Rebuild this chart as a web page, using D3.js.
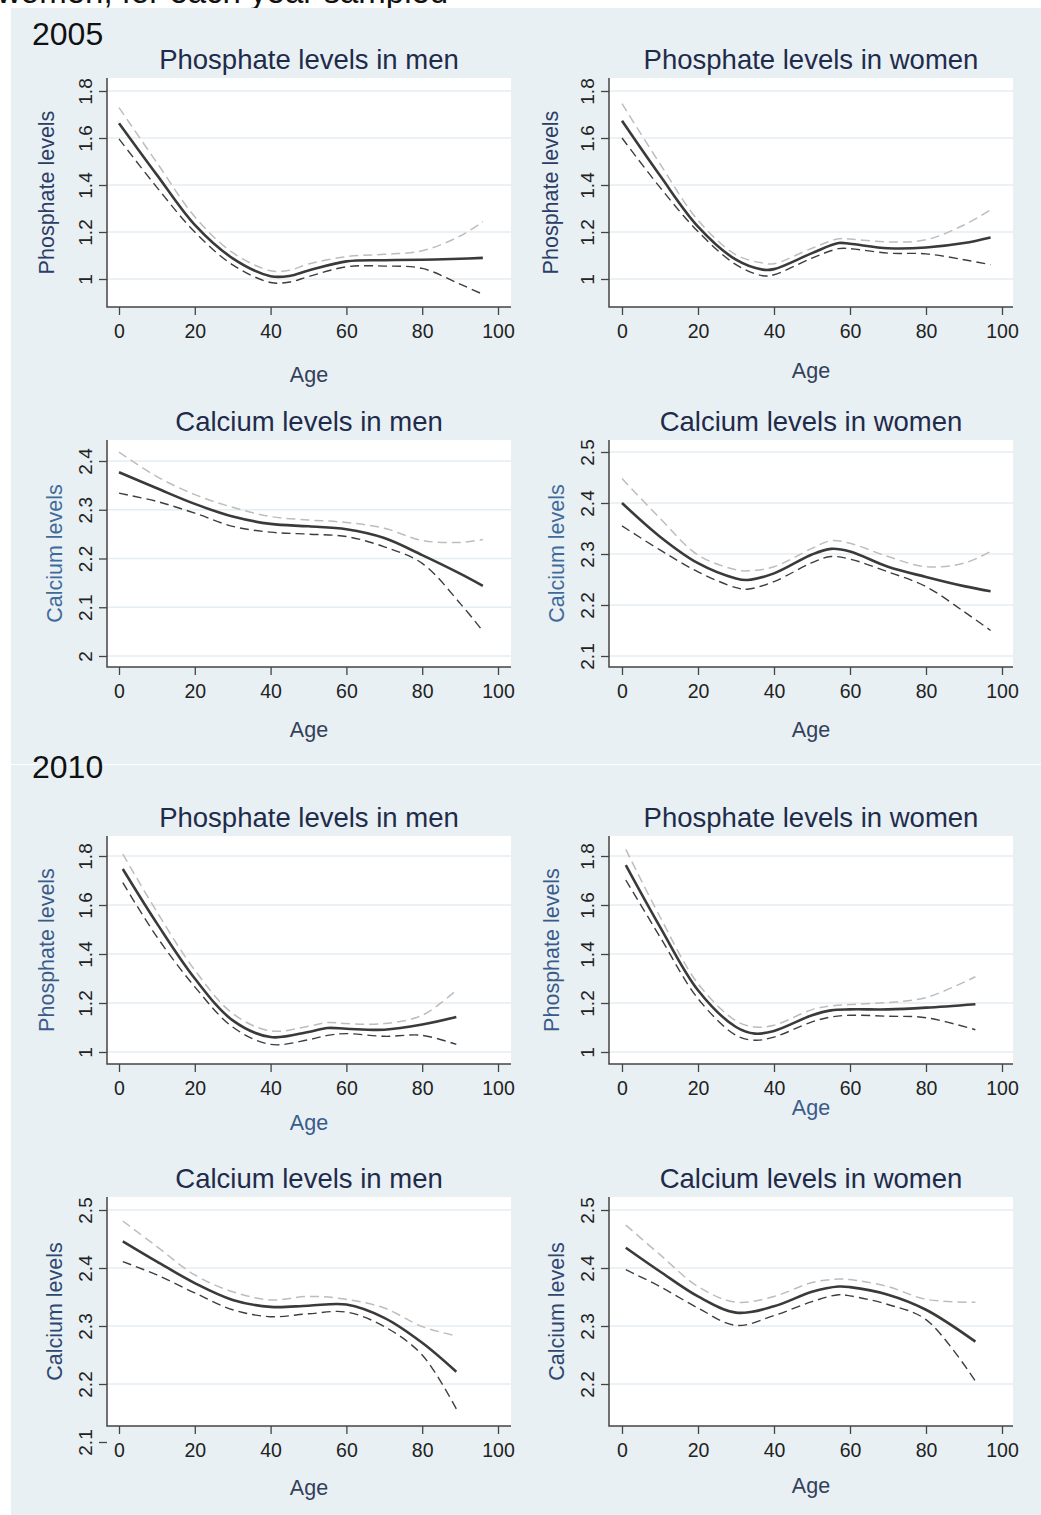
<!DOCTYPE html>
<html>
<head>
<meta charset="utf-8">
<script src="https://cdn.jsdelivr.net/npm/d3@7"></script>
<style>
  html, body { margin: 0; padding: 0; background: #fff; }
  svg { display: block; font-family: "Liberation Sans", Arial, sans-serif; }
</style>
</head>
<body>
<script>
// valores (edad, ajuste, IC superior, IC inferior)

// 2005 - fosfato hombres
const age05PhosMen = [0, 10, 20, 30, 40, 45, 50, 60, 70, 80, 90, 96];
const fit05PhosMen = [1.663, 1.443, 1.23, 1.088, 1.012, 1.013, 1.036, 1.075, 1.08, 1.082, 1.086, 1.09];
const hi05PhosMen  = [1.729, 1.495, 1.265, 1.112, 1.035, 1.037, 1.064, 1.095, 1.105, 1.12, 1.183, 1.244];
const lo05PhosMen  = [1.596, 1.39, 1.20, 1.06, 0.985, 0.987, 1.01, 1.052, 1.055, 1.045, 0.978, 0.935];

// 2005 - fosfato mujeres
const age05PhosWomen = [0, 10, 20, 30, 37, 40, 50, 57, 60, 70, 80, 90, 97];
const fit05PhosWomen = [1.673, 1.44, 1.223, 1.082, 1.04, 1.042, 1.11, 1.153, 1.15, 1.131, 1.134, 1.153, 1.177];
const hi05PhosWomen  = [1.746, 1.49, 1.25, 1.103, 1.068, 1.065, 1.131, 1.171, 1.17, 1.158, 1.167, 1.23, 1.294];
const lo05PhosWomen  = [1.60, 1.39, 1.202, 1.061, 1.014, 1.018, 1.089, 1.129, 1.129, 1.11, 1.107, 1.082, 1.061];

// 2005 - calcio hombres
const age05CaMen = [0, 10, 20, 30, 40, 50, 60, 70, 80, 90, 96];
const fit05CaMen = [2.377, 2.344, 2.312, 2.286, 2.271, 2.266, 2.26, 2.242, 2.207, 2.169, 2.144];
const hi05CaMen  = [2.418, 2.368, 2.331, 2.305, 2.286, 2.279, 2.274, 2.262, 2.237, 2.233, 2.239];
const lo05CaMen  = [2.334, 2.317, 2.293, 2.266, 2.254, 2.25, 2.245, 2.224, 2.19, 2.108, 2.051];

// 2005 - calcio mujeres
const age05CaWomen = [0, 10, 20, 30, 33, 40, 50, 55, 60, 70, 80, 90, 97];
const fit05CaWomen = [2.40, 2.334, 2.282, 2.252, 2.249, 2.262, 2.299, 2.31, 2.305, 2.275, 2.255, 2.237, 2.227];
const hi05CaWomen  = [2.448, 2.37, 2.298, 2.269, 2.267, 2.275, 2.311, 2.326, 2.321, 2.295, 2.275, 2.282, 2.305];
const lo05CaWomen  = [2.355, 2.308, 2.265, 2.234, 2.231, 2.246, 2.283, 2.295, 2.29, 2.265, 2.236, 2.187, 2.15];

// 2010 - fosfato hombres
const age10PhosMen = [1, 10, 20, 30, 40, 50, 55, 60, 70, 80, 89];
const fit10PhosMen = [1.747, 1.525, 1.30, 1.129, 1.061, 1.082, 1.098, 1.095, 1.091, 1.112, 1.143];
const hi10PhosMen  = [1.808, 1.572, 1.334, 1.157, 1.086, 1.105, 1.12, 1.116, 1.116, 1.15, 1.252];
const lo10PhosMen  = [1.691, 1.47, 1.266, 1.102, 1.031, 1.05, 1.068, 1.075, 1.064, 1.068, 1.031];

// 2010 - fosfato mujeres
const age10PhosWomen = [1, 10, 20, 30, 35, 40, 50, 55, 60, 70, 80, 93];
const fit10PhosWomen = [1.763, 1.511, 1.252, 1.102, 1.075, 1.086, 1.15, 1.17, 1.174, 1.174, 1.181, 1.195];
const hi10PhosWomen  = [1.827, 1.552, 1.279, 1.127, 1.102, 1.109, 1.173, 1.188, 1.194, 1.202, 1.222, 1.307];
const lo10PhosWomen  = [1.702, 1.47, 1.218, 1.068, 1.048, 1.061, 1.123, 1.143, 1.15, 1.146, 1.14, 1.091];

// 2010 - calcio hombres
const age10CaMen = [1, 10, 20, 30, 40, 50, 60, 70, 80, 89];
const fit10CaMen = [2.446, 2.411, 2.374, 2.345, 2.333, 2.335, 2.337, 2.314, 2.271, 2.221];
const hi10CaMen  = [2.481, 2.437, 2.388, 2.359, 2.345, 2.351, 2.346, 2.331, 2.299, 2.283];
const lo10CaMen  = [2.411, 2.388, 2.357, 2.328, 2.316, 2.321, 2.324, 2.299, 2.25, 2.157];

// 2010 - calcio mujeres
const age10CaWomen = [1, 10, 20, 30, 40, 50, 57, 60, 70, 80, 93];
const fit10CaWomen = [2.435, 2.394, 2.351, 2.323, 2.334, 2.359, 2.368, 2.367, 2.354, 2.328, 2.273];
const hi10CaWomen  = [2.474, 2.423, 2.368, 2.341, 2.351, 2.375, 2.381, 2.38, 2.368, 2.346, 2.341];
const lo10CaWomen  = [2.397, 2.368, 2.331, 2.301, 2.318, 2.342, 2.354, 2.352, 2.337, 2.311, 2.205];

// ticks
const ageTicks = [0, 20, 40, 60, 80, 100];
const phosTicks = [1, 1.2, 1.4, 1.6, 1.8];
const ca05MenTicks = [2, 2.1, 2.2, 2.3, 2.4];
const ca05WomenTicks = [2.1, 2.2, 2.3, 2.4, 2.5];
const ca10MenTicks = [2.1, 2.2, 2.3, 2.4, 2.5];
const ca10WomenTicks = [2.2, 2.3, 2.4, 2.5];

const W = 1041, H = 1515;

// layout de cada panel (en pixeles)
const L = { left: 107, right: 511, x0: 119, x100: 498 };
const R = { left: 609, right: 1013, x0: 622, x100: 1002 };

const panels = [
  { col: L, top: 78, bottom: 307, yd: [1, 1.8], yr: [279, 91], ticks: phosTicks,
    title: 'Phosphate levels in men', ylab: 'Phosphate levels', ylabOff: 53, ageOff: 75,
    ylabColor: '#2b3c66', ageColor: '#33405a',
    age: age05PhosMen, fit: fit05PhosMen, hi: hi05PhosMen, lo: lo05PhosMen },
  { col: R, top: 78, bottom: 307, yd: [1, 1.8], yr: [279, 91], ticks: phosTicks,
    title: 'Phosphate levels in women', ylab: 'Phosphate levels', ylabOff: 51, ageOff: 71,
    ylabColor: '#2b3c66', ageColor: '#33405a',
    age: age05PhosWomen, fit: fit05PhosWomen, hi: hi05PhosWomen, lo: lo05PhosWomen },
  { col: L, top: 440, bottom: 667, yd: [2, 2.4], yr: [656, 461], ticks: ca05MenTicks,
    title: 'Calcium levels in men', ylab: 'Calcium levels', ylabOff: 45, ageOff: 70,
    ylabColor: '#3f6b9b', ageColor: '#33405a',
    age: age05CaMen, fit: fit05CaMen, hi: hi05CaMen, lo: lo05CaMen },
  { col: R, top: 440, bottom: 667, yd: [2.1, 2.5], yr: [656, 452], ticks: ca05WomenTicks,
    title: 'Calcium levels in women', ylab: 'Calcium levels', ylabOff: 45, ageOff: 70,
    ylabColor: '#3f6b9b', ageColor: '#33405a',
    age: age05CaWomen, fit: fit05CaWomen, hi: hi05CaWomen, lo: lo05CaWomen },
  { col: L, top: 836, bottom: 1064, yd: [1, 1.8], yr: [1052, 856], ticks: phosTicks,
    title: 'Phosphate levels in men', ylab: 'Phosphate levels', ylabOff: 53, ageOff: 66,
    ylabColor: '#3a5b8a', ageColor: '#3a5b8a',
    age: age10PhosMen, fit: fit10PhosMen, hi: hi10PhosMen, lo: lo10PhosMen },
  { col: R, top: 836, bottom: 1064, yd: [1, 1.8], yr: [1052, 856], ticks: phosTicks,
    title: 'Phosphate levels in women', ylab: 'Phosphate levels', ylabOff: 50, ageOff: 51,
    ylabColor: '#3a5b8a', ageColor: '#3a5b8a',
    age: age10PhosWomen, fit: fit10PhosWomen, hi: hi10PhosWomen, lo: lo10PhosWomen },
  { col: L, top: 1197, bottom: 1426, yd: [2.2, 2.5], yr: [1384, 1210], ticks: ca10MenTicks,
    title: 'Calcium levels in men', ylab: 'Calcium levels', ylabOff: 45, ageOff: 69,
    ylabColor: '#2e4672', ageColor: '#33405a',
    age: age10CaMen, fit: fit10CaMen, hi: hi10CaMen, lo: lo10CaMen },
  { col: R, top: 1197, bottom: 1426, yd: [2.2, 2.5], yr: [1384, 1210], ticks: ca10WomenTicks,
    title: 'Calcium levels in women', ylab: 'Calcium levels', ylabOff: 45, ageOff: 67,
    ylabColor: '#2e4672', ageColor: '#33405a',
    age: age10CaWomen, fit: fit10CaWomen, hi: hi10CaWomen, lo: lo10CaWomen }
];

const svg = d3.select('body').append('svg')
  .attr('width', W).attr('height', H);

// texto cortado arriba (viene de la pagina original)
svg.append('text')
  .attr('x', -3).attr('y', 3)
  .style('font-size', '33px')
  .attr('fill', '#111')
  .text('women, for each year sampled');

// fondo del grafico
svg.append('rect')
  .attr('x', 11).attr('y', 8)
  .attr('width', W - 11).attr('height', H - 8)
  .attr('fill', '#e8f0f3');

svg.append('line')
  .attr('x1', 11).attr('x2', W)
  .attr('y1', 764.5).attr('y2', 764.5)
  .attr('stroke', '#fff').attr('stroke-width', 1.2);

svg.append('text').attr('x', 32).attr('y', 45)
  .style('font-size', '32px').attr('fill', '#111').text('2005');
svg.append('text').attr('x', 32).attr('y', 778)
  .style('font-size', '32px').attr('fill', '#111').text('2010');

const fmt = d => String(+d.toFixed(1));

panels.forEach(p => {
  const x = d3.scaleLinear().domain([0, 100]).range([p.col.x0, p.col.x100]);
  const y = d3.scaleLinear().domain(p.yd).range(p.yr);
  const g = svg.append('g');

  // area blanca
  g.append('rect')
    .attr('x', p.col.left).attr('y', p.top)
    .attr('width', p.col.right - p.col.left)
    .attr('height', p.bottom - p.top)
    .attr('fill', '#fff');

  // lineas de cuadricula
  g.selectAll('.grid')
    .data(p.ticks.filter(t => y(t) > p.top && y(t) < p.bottom))
    .enter().append('line')
    .attr('x1', p.col.left).attr('x2', p.col.right)
    .attr('y1', d => y(d)).attr('y2', d => y(d))
    .attr('stroke', '#e4edf1').attr('stroke-width', 1.5);

  // eje Y
  const yAxis = g.append('g')
    .attr('transform', `translate(${p.col.left},0)`)
    .call(d3.axisLeft(y).tickValues(p.ticks).tickSize(8).tickFormat(fmt));
  yAxis.select('.domain').remove();
  yAxis.selectAll('.tick line').attr('stroke', '#444').attr('stroke-width', 1.3);
  yAxis.selectAll('.tick text')
    .attr('x', null).attr('dy', null)
    .attr('transform', 'translate(-15,0) rotate(-90)')
    .attr('text-anchor', 'middle')
    .attr('fill', '#222')
    .style('font-size', '19px')
    .style('font-family', '"Liberation Sans", Arial, sans-serif');

  // eje X
  const xAxis = g.append('g')
    .attr('transform', `translate(0,${p.bottom})`)
    .call(d3.axisBottom(x).tickValues(ageTicks).tickSize(8).tickPadding(9));
  xAxis.select('.domain').remove();
  xAxis.selectAll('.tick line').attr('stroke', '#444').attr('stroke-width', 1.3);
  xAxis.selectAll('.tick text')
    .attr('fill', '#222')
    .style('font-size', '19.5px')
    .style('font-family', '"Liberation Sans", Arial, sans-serif');

  // lineas de los ejes
  g.append('path')
    .attr('d', `M${p.col.left},${p.top}V${p.bottom}H${p.col.right}`)
    .attr('fill', 'none').attr('stroke', '#444').attr('stroke-width', 1.5);

  // titulos
  g.append('text')
    .attr('x', (p.col.left + p.col.right) / 2).attr('y', p.top - 9)
    .attr('text-anchor', 'middle')
    .style('font-size', '27.5px').attr('fill', '#1f2b4b')
    .text(p.title);

  g.append('text')
    .attr('transform', `translate(${p.col.left - p.ylabOff},${(p.top + p.bottom) / 2}) rotate(-90)`)
    .attr('text-anchor', 'middle')
    .style('font-size', '21.5px').attr('fill', p.ylabColor)
    .text(p.ylab);

  g.append('text')
    .attr('x', (p.col.left + p.col.right) / 2).attr('y', p.bottom + p.ageOff)
    .attr('text-anchor', 'middle')
    .style('font-size', '21.5px').attr('fill', p.ageColor)
    .text('Age');

  // curvas
  const line = d3.line()
    .x((d, i) => x(p.age[i]))
    .y(d => y(d))
    .curve(d3.curveCatmullRom.alpha(0.5));

  g.append('path').datum(p.hi)
    .attr('d', line)
    .attr('fill', 'none').attr('stroke', '#bdbdbd')
    .attr('stroke-width', 1.5).attr('stroke-dasharray', '9,5');

  g.append('path').datum(p.lo)
    .attr('d', line)
    .attr('fill', 'none').attr('stroke', '#3d3d3d')
    .attr('stroke-width', 1.4).attr('stroke-dasharray', '9,5');

  g.append('path').datum(p.fit)
    .attr('d', line)
    .attr('fill', 'none').attr('stroke', '#3a3a3a')
    .attr('stroke-width', 2.6);
});
</script>
</body>
</html>
